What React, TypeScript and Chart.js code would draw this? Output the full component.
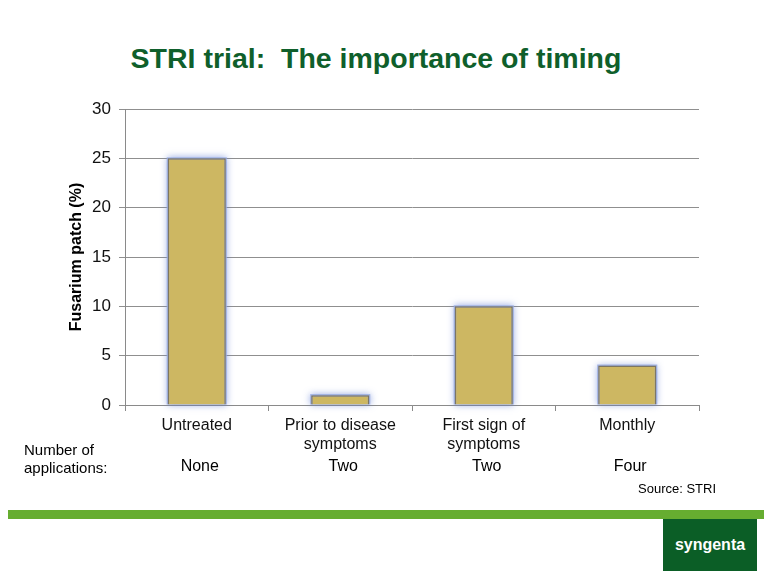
import React, { useEffect, useRef } from "react";
import { Chart, registerables } from "chart.js";

Chart.register(...registerables);

const categories: (string | string[])[] = [
  "Untreated",
  ["Prior to disease", "symptoms"],
  ["First sign of", "symptoms"],
  "Monthly",
];
const fusariumPatch = [25, 1, 10, 4];
const applications = ["None", "Two", "Two", "Four"];
const yTicks = { min: 0, max: 30, step: 5 };

const FONT = "'Liberation Sans', Arial, sans-serif";

const glowPlugin = {
  id: "glow",
  beforeDatasetsDraw(chart: any) {
    const ctx = chart.ctx;
    const meta = chart.getDatasetMeta(0);
    ctx.save();
    ctx.shadowColor = "rgba(95,125,215,0.75)";
    ctx.shadowBlur = 7;
    ctx.fillStyle = "rgba(150,170,225,0.85)";
    meta.data.forEach((bar: any) => {
      const { x, y, base, width } = bar.getProps(["x", "y", "base", "width"], true);
      const top = Math.min(y, base);
      const h = Math.abs(base - y);
      ctx.fillRect(x - width / 2 - 1, top - 1, width + 2, h + 1);
    });
    ctx.restore();
  },
};

const appsPlugin = {
  id: "apps",
  afterDraw(chart: any) {
    const ctx = chart.ctx;
    const x = chart.scales.x;
    ctx.save();
    ctx.fillStyle = "#000";
    ctx.font = `16px ${FONT}`;
    ctx.textAlign = "center";
    ctx.textBaseline = "middle";
    applications.forEach((a, i) => {
      ctx.fillText(a, x.getPixelForValue(i) + 3, 467);
    });
    ctx.restore();
  },
};

export default function App() {
  const ref = useRef<HTMLCanvasElement>(null);
  useEffect(() => {
    if (!ref.current) return;
    const chart = new Chart(ref.current, {
      type: "bar",
      data: {
        labels: categories,
        datasets: [
          {
            data: fusariumPatch,
            backgroundColor: "rgb(205,183,98)",
            borderColor: "rgb(125,118,98)",
            borderWidth: 1.5,
            categoryPercentage: 1,
            barPercentage: 0.405,
          },
        ],
      },
      options: {
        responsive: false,
        animation: false,
        events: [],
        layout: { padding: { left: 0, top: 109, right: 65, bottom: 114 } },
        plugins: { legend: { display: false }, tooltip: { enabled: false }, title: { display: false } },
        scales: {
          x: {
            offset: true,
            afterFit: (s: any) => {
              s.height = 60;
            },
            border: { display: true, color: "#8a8a8a", width: 1 },
            grid: { offset: true, drawOnChartArea: false, drawTicks: true, tickLength: 6, color: "#8a8a8a" },
            ticks: {
              color: "#111",
              font: { family: FONT, size: 16, lineHeight: 1.2 },
              padding: 5,
              maxRotation: 0,
              autoSkip: false,
            },
          },
          y: {
            min: yTicks.min,
            max: yTicks.max,
            afterFit: (s: any) => {
              s.width = 125;
            },
            border: { display: true, color: "#8a8a8a", width: 1 },
            grid: { color: "#8f8f8f", lineWidth: 1, tickLength: 6, drawTicks: true },
            ticks: {
              stepSize: yTicks.step,
              color: "#111",
              font: { family: FONT, size: 17 },
              padding: 8,
            },
            title: {
              display: true,
              text: "Fusarium patch (%)",
              color: "#000",
              font: { family: FONT, size: 16, weight: "bold", lineHeight: 1.2 },
              padding: { top: 67, bottom: 0 },
            },
          },
        },
      },
      plugins: [glowPlugin, appsPlugin],
    });
    return () => chart.destroy();
  }, []);

  return (
    <div
      style={{
        position: "fixed",
        left: 0,
        top: 0,
        width: 764,
        height: 579,
        background: "#fff",
        overflow: "hidden",
        fontFamily: FONT,
      }}
    >
      <div
        style={{
          position: "absolute",
          left: 0,
          width: 752,
          top: 39,
          textAlign: "center",
          color: "#0f5f2b",
          fontWeight: "bold",
          fontSize: 28.5,
          lineHeight: "38px",
          whiteSpace: "pre",
        }}
      >
        {"STRI trial:  The importance of timing"}
      </div>
      <canvas ref={ref} width={764} height={579} style={{ position: "absolute", left: 0, top: 0 }} />
      <div
        style={{
          position: "absolute",
          left: 24,
          top: 441,
          fontSize: 15,
          lineHeight: "18px",
          color: "#000",
        }}
      >
        Number of
        <br />
        applications:
      </div>
      <div style={{ position: "absolute", left: 638, top: 481, fontSize: 13, color: "#000" }}>Source: STRI</div>
      <div style={{ position: "absolute", left: 8, top: 510, width: 756, height: 9, background: "#66ad30" }} />
      <div
        style={{
          position: "absolute",
          left: 663,
          top: 519,
          width: 94,
          height: 52,
          background: "#0b5e26",
          color: "#fff",
          fontWeight: "bold",
          fontSize: 16,
          display: "flex",
          alignItems: "center",
          justifyContent: "center",
        }}
      >
        syngenta
      </div>
    </div>
  );
}
